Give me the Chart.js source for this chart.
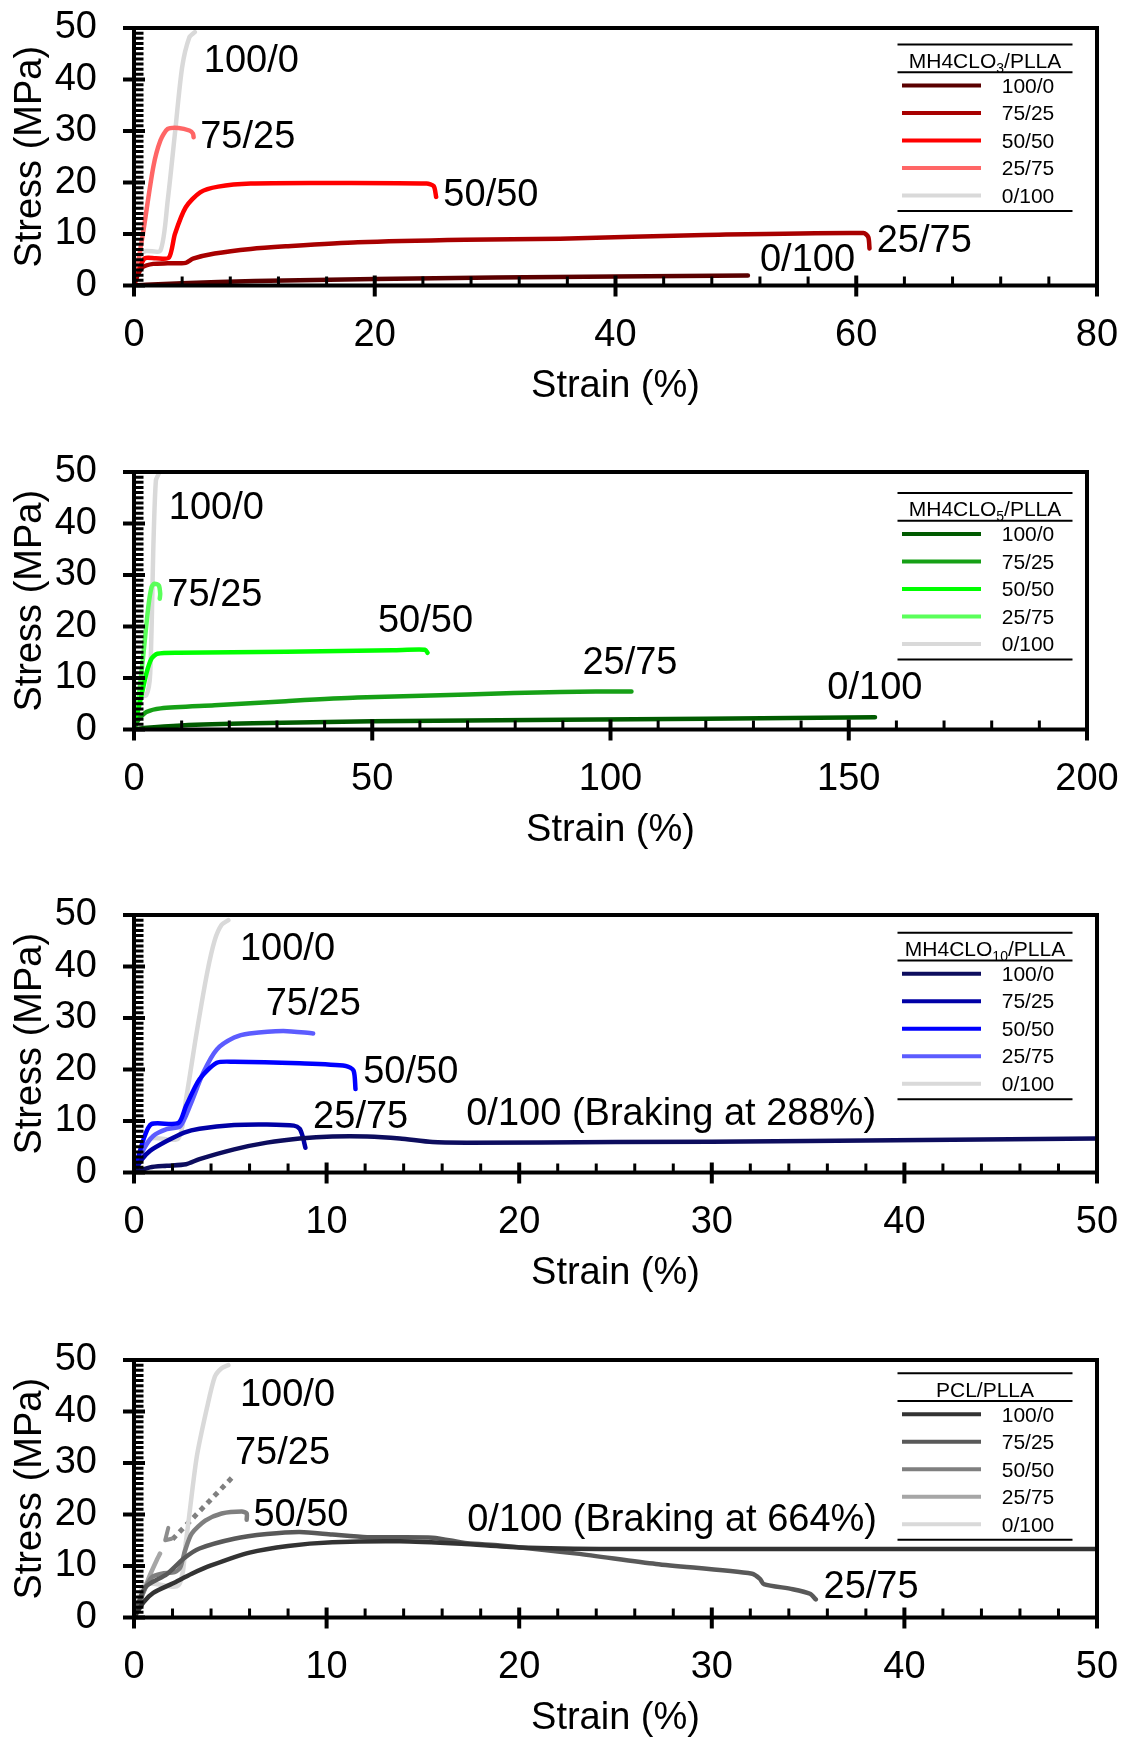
<!DOCTYPE html>
<html>
<head>
<meta charset="utf-8">
<title>Stress-strain curves of the blends</title>
<script src="https://cdn.jsdelivr.net/npm/chart.js"></script>
<style>
  body { margin: 0; background: #fff; overflow: hidden; }
  canvas.panel { position: absolute; left: 0; }
</style>
</head>
<body>
<canvas id="c1" class="panel" width="1126" height="404" style="top:1px"></canvas>
<canvas id="c2" class="panel" width="1126" height="404" style="top:445px"></canvas>
<canvas id="c3" class="panel" width="1126" height="404" style="top:888px"></canvas>
<canvas id="c4" class="panel" width="1126" height="404" style="top:1333px"></canvas>
<script>
// blend ratios, legend order
const blends = ['100/0', '75/25', '50/50', '25/75', '0/100'];

// MH4CLO3/PLLA  [strain %, stress MPa]
const mh3_100_0 = [[0,0],[1,0.15],[4,0.45],[10,0.85],[20,1.25],[30,1.55],[40,1.75],[51,1.95]];
const mh3_75_25 = [[0,0],[0.3,2.0],[0.74,3.6],[1.6,4.2],[2.8,4.3],[4.3,4.4],[4.9,5.2],[6.7,6.2],[9.7,7.1],[12.6,7.6],[18.6,8.4],[27.5,8.9],[35.4,9.1],[47.4,9.8],[60.6,10.2],[61.0,9.4],[61.1,7.2]];
const mh3_50_50 = [[0,0],[0.5,3.5],[0.9,5.3],[1.8,5.3],[2.9,5.4],[3.4,10],[4.3,15.2],[5.5,18.1],[7.0,19.2],[9.7,19.8],[15.6,19.9],[24.3,19.8],[24.9,19.3],[25.1,17.2]];
const mh3_25_75 = [[0,0],[0.74,10],[1.6,23],[2.2,28.2],[2.8,30.4],[3.7,30.6],[4.6,30.1],[4.9,29.5],[4.95,28.8]];
const mh3_0_100 = [[0,0],[0.6,6.1],[1.0,6.7],[2.2,6.8],[2.8,16.5],[3.4,29.5],[4.0,42.4],[4.6,48.2],[5.05,49.2]];
const mh3Notes = [['100/0', 5.8, 43.4], ['75/25', 5.5, 28.8], ['50/50', 25.7, 17.5], ['25/75', 61.7, 8.6], ['0/100', 52.0, 4.9]];

// MH4CLO5/PLLA
const mh5_100_0 = [[0,0],[2,0.3],[10,0.8],[25,1.2],[50,1.6],[90,1.9],[120,2.1],[155.5,2.4]];
const mh5_75_25 = [[0,0],[0.5,1.2],[1.1,2.1],[2.6,3.4],[5.6,4.1],[16.9,4.7],[31.9,5.5],[46.9,6.2],[70,6.8],[89.5,7.3],[104.4,7.4]];
const mh5_50_50 = [[0,0],[0.8,3.5],[1.5,6.3],[2.6,10.9],[3.7,13.8],[4.9,14.7],[9.4,14.9],[31.9,15.1],[54.3,15.4],[61.1,15.5],[61.6,14.9]];
const mh5_25_75 = [[0,0],[0.75,4.4],[1.9,14],[3.0,23.8],[3.7,27.7],[4.3,28.3],[5.2,28.0],[5.5,26.4],[5.4,25.4]];
const mh5_0_100 = [[0,0],[0.75,6.0],[2.6,6.7],[3.4,10.9],[4.1,36.7],[4.6,48.4],[5.2,49.7]];
const mh5Notes = [['100/0', 7.3, 43.0], ['75/25', 7.0, 26.1], ['50/50', 51.2, 20.9], ['25/75', 94.1, 12.9], ['0/100', 145.5, 8.0]];

// MH4CLO10/PLLA
const mh10_100_0 = [[0,0],[0.83,1.0],[1.7,1.3],[2.7,1.6],[3.4,2.6],[5.2,4.5],[6.9,5.8],[8.6,6.6],[10.3,7.0],[12.1,7.0],[13.8,6.6],[15.5,5.9],[17.3,5.8],[25,5.9],[35,6.1],[50,6.6]];
const mh10_75_25 = [[0,0],[0.4,2.5],[0.83,4.2],[1.7,6.1],[2.6,7.75],[3.4,8.5],[5.2,9.2],[6.9,9.3],[8.3,9.1],[8.6,8.5],[8.75,7.1],[8.9,4.8]];
const mh10_50_50 = [[0,0],[0.5,6.5],[0.9,9.4],[2.3,9.6],[2.7,12.9],[3.4,18.1],[4.3,21.3],[5.2,21.5],[8.6,21.2],[11.0,20.7],[11.4,19.8],[11.5,16.2]];
const mh10_25_75 = [[0,0],[0.5,4.5],[1.0,7.1],[1.7,8.4],[2.4,9.0],[2.9,12.9],[3.6,19.4],[4.3,23.9],[5.2,26.2],[6.0,27.0],[7.75,27.5],[9.3,27.0]];
const mh10_0_100 = [[0,0],[0.83,6.5],[2.3,6.6],[2.7,14.2],[3.25,27.1],[3.8,38.8],[4.2,45.2],[4.55,48.1],[4.9,49]];
const mh10Notes = [['100/0', 5.5, 43.3], ['75/25', 6.84, 32.6], ['50/50', 11.9, 19.4], ['25/75', 9.3, 10.7], ['0/100 (Braking at 288%)', 17.25, 11.3]];

// PCL/PLLA
const pcl_100_0 = [[0,0],[0.5,3.0],[1.0,4.8],[2.0,6.6],[3.0,8.5],[4.0,10.1],[6.0,12.6],[8.0,13.9],[10.3,14.6],[13.8,14.8],[17,14.3],[20,13.6],[25,13.3],[35,13.3],[50,13.3]];
const pcl_75_25 = [[0,0],[0.57,5.8],[1.7,8.4],[2.6,11.5],[3.4,13.4],[5.2,15.3],[6.9,16.2],[8.6,16.6],[10.3,16.1],[12.1,15.6],[15.5,15.5],[17.3,14.4],[19,14.0],[23,12.4],[27.1,10.4],[32.1,8.5],[32.5,7.5],[32.7,6.5],[34.2,5.5],[35.1,4.6],[35.4,3.5]];
const pcl_50_50 = [[0,0],[0.5,5.0],[0.92,7.8],[1.44,8.5],[2.1,8.8],[2.4,9.7],[2.65,13],[3.0,16.3],[3.7,18.8],[4.55,20.2],[5.6,20.6],[5.85,20.2],[5.85,19]];
const pcl_25_75 = [[0,0],[0.4,4],[0.8,8],[1.2,11.3],[1.35,12.4]];
const pcl_0_100 = [[0,0],[0.57,6.5],[2.3,6.2],[2.7,14.9],[3.25,31],[3.8,40.9],[4.2,46.8],[4.55,48.4],[4.9,49]];
const pcl_25_75_break = [[1.78,17.4],[1.62,15.0],[1.95,15.3]];
const pcl_25_75_dotted = [[2.0,15.2],[5.1,27.2]];
const pclNotes = [['100/0', 5.5, 43.2], ['75/25', 5.24, 31.8], ['50/50', 6.2, 19.8], ['0/100 (Braking at 664%)', 17.3, 18.9], ['25/75', 35.8, 5.9]];

const redShades = ['#5a0000', '#a80000', '#ff0000', '#ff6666', '#d9d9d9'];
const greenShades = ['#005a00', '#16a016', '#00ff00', '#5aff5a', '#d9d9d9'];
const blueShades = ['#0d0d5e', '#0000a6', '#0000ff', '#5c5cff', '#d9d9d9'];
const greyShades = ['#333333', '#595959', '#7f7f7f', '#a6a6a6', '#d9d9d9'];

const FONT = '"Liberation Sans", Arial, Helvetica, sans-serif';
Chart.defaults.font.family = FONT;
Chart.defaults.color = '#000';

const toXY = pts => pts.map(([x, y]) => ({x, y}));

// box around the plot, major ticks across the axes, minor ticks inside
const frameTicks = {
  id: 'frameTicks',
  afterDraw(chart, args, opts) {
    const {ctx, chartArea: a, scales: {x, y}} = chart;
    const isMajor = (v, step) => Math.abs(v / step - Math.round(v / step)) < 1e-6;
    ctx.save();
    ctx.strokeStyle = '#000';
    ctx.lineWidth = 4;
    ctx.lineJoin = 'miter';
    ctx.strokeRect(a.left, a.top, a.right - a.left, a.bottom - a.top);

    const major = new Path2D(), minor = new Path2D();
    for (let i = 0; i * opts.xMinor <= x.max + 1e-9; i++) {
      const v = i * opts.xMinor, px = x.getPixelForValue(v);
      if (isMajor(v, opts.xMajor)) { major.moveTo(px, a.bottom - 10); major.lineTo(px, a.bottom + 11); }
      else { minor.moveTo(px, a.bottom - 9); minor.lineTo(px, a.bottom); }
    }
    for (let i = 0; i * opts.yMinor <= y.max + 1e-9; i++) {
      const v = i * opts.yMinor, py = y.getPixelForValue(v);
      if (isMajor(v, opts.yMajor)) { major.moveTo(a.left - 11, py); major.lineTo(a.left + 11, py); }
      else { minor.moveTo(a.left, py); minor.lineTo(a.left + 9.5, py); }
    }
    ctx.lineWidth = 4;
    ctx.stroke(major);
    ctx.lineWidth = 3;
    ctx.stroke(minor);
    ctx.restore();
  }
};

// ratio labels written next to the curves
const curveNotes = {
  id: 'curveNotes',
  afterDatasetsDraw(chart, args, opts) {
    const {ctx, scales: {x, y}} = chart;
    ctx.save();
    ctx.font = '38px ' + FONT;
    ctx.fillStyle = '#000';
    ctx.textAlign = 'left';
    ctx.textBaseline = 'middle';
    for (const [text, sx, sy] of opts.items) ctx.fillText(text, x.getPixelForValue(sx), y.getPixelForValue(sy));
    ctx.restore();
  }
};

// table-style legend: rule, title with subscript, rule, five entries, rule
const blendLegend = {
  id: 'blendLegend',
  afterDraw(chart, args, opts) {
    const {ctx, chartArea: a} = chart;
    const top = a.top + opts.offset;
    const L = 897.5, R = 1072.5;
    ctx.save();
    ctx.strokeStyle = '#000';
    ctx.lineWidth = 2;
    ctx.beginPath();
    for (const dy of [0, 27.7, 166.5]) { ctx.moveTo(L, top + dy); ctx.lineTo(R, top + dy); }
    ctx.stroke();

    const [head, sub, tail] = opts.title;
    ctx.fillStyle = '#000';
    ctx.textBaseline = 'alphabetic';
    ctx.textAlign = 'left';
    ctx.font = '21px ' + FONT;
    const wHead = ctx.measureText(head).width, wTail = ctx.measureText(tail).width;
    ctx.font = '14px ' + FONT;
    const wSub = ctx.measureText(sub).width;
    let tx = (L + R) / 2 - (wHead + wSub + wTail) / 2;
    const base = top + 23.2;
    ctx.font = '21px ' + FONT;
    ctx.fillText(head, tx, base);
    tx += wHead;
    ctx.font = '14px ' + FONT;
    ctx.fillText(sub, tx, base + 5);
    tx += wSub;
    ctx.font = '21px ' + FONT;
    ctx.fillText(tail, tx, base);

    ctx.textAlign = 'center';
    ctx.textBaseline = 'middle';
    ctx.lineWidth = 4;
    blends.forEach((name, i) => {
      const yy = top + 41 + i * 27.5;
      ctx.strokeStyle = chart.data.datasets[i].borderColor;
      ctx.beginPath();
      ctx.moveTo(902, yy);
      ctx.lineTo(981, yy);
      ctx.stroke();
      ctx.fillText(name, 1028, yy + 1.5);
    });
    ctx.restore();
  }
};

function panel(id, cfg) {
  const datasets = cfg.series.map((pts, i) => ({
    label: blends[i],
    data: toXY(pts),
    borderColor: cfg.colors[i]
  })).concat(cfg.extra || []);
  return new Chart(document.getElementById(id), {
    type: 'line',
    data: { datasets },
    options: {
      responsive: false,
      animation: false,
      devicePixelRatio: 1,
      layout: { padding: { top: 27, right: 1126 - cfg.right, bottom: 0, left: 0 } },
      elements: {
        point: { radius: 0 },
        line: { borderWidth: 4.5, tension: 0.25, fill: false, borderCapStyle: 'round', borderJoinStyle: 'round' }
      },
      plugins: {
        legend: { display: false },
        tooltip: { enabled: false },
        frameTicks: { xMajor: cfg.xStep, xMinor: cfg.xMinor, yMajor: 10, yMinor: 1 },
        curveNotes: { items: cfg.notes },
        blendLegend: { title: cfg.legendTitle, offset: cfg.legendOffset }
      },
      scales: {
        x: {
          type: 'linear', min: 0, max: cfg.xMax,
          ticks: { stepSize: cfg.xStep, font: { size: 38 }, color: '#000', padding: 19, maxRotation: 0, autoSkip: false },
          grid: { display: false },
          border: { display: false },
          title: { display: true, text: 'Strain (%)', font: { size: 38 }, color: '#000', padding: { top: 0, bottom: -4 } },
          afterFit(s) { s.height = 119.5; s.paddingLeft = 0; s.paddingRight = 0; }
        },
        y: {
          type: 'linear', min: 0, max: 50,
          ticks: { stepSize: 10, font: { size: 38 }, color: '#000', padding: 29, autoSkip: false },
          grid: { display: false },
          border: { display: false },
          title: { display: true, text: 'Stress (MPa)', font: { size: 38 }, color: '#000', padding: { top: 8, bottom: 0 } },
          afterFit(s) { s.width = 134; s.paddingTop = 0; s.paddingBottom = 0; }
        }
      }
    },
    plugins: [frameTicks, curveNotes, blendLegend]
  });
}

panel('c1', {
  series: [mh3_100_0, mh3_75_25, mh3_50_50, mh3_25_75, mh3_0_100],
  colors: redShades, notes: mh3Notes,
  xMax: 80, xStep: 20, xMinor: 4, right: 1097,
  legendTitle: ['MH4CLO', '3', '/PLLA'], legendOffset: 16.6
});

panel('c2', {
  series: [mh5_100_0, mh5_75_25, mh5_50_50, mh5_25_75, mh5_0_100],
  colors: greenShades, notes: mh5Notes,
  xMax: 200, xStep: 50, xMinor: 10, right: 1087,
  legendTitle: ['MH4CLO', '5', '/PLLA'], legendOffset: 21
});

panel('c3', {
  series: [mh10_100_0, mh10_75_25, mh10_50_50, mh10_25_75, mh10_0_100],
  colors: blueShades, notes: mh10Notes,
  xMax: 50, xStep: 10, xMinor: 2, right: 1097,
  legendTitle: ['MH4CLO', '10', '/PLLA'], legendOffset: 17.7
});

panel('c4', {
  series: [pcl_100_0, pcl_75_25, pcl_50_50, pcl_25_75, pcl_0_100],
  colors: greyShades, notes: pclNotes,
  xMax: 50, xStep: 10, xMinor: 2, right: 1097,
  legendTitle: ['PCL/PLLA', '', ''], legendOffset: 13.3,
  extra: [
    { label: 'break', data: toXY(pcl_25_75_break), borderColor: '#8c8c8c', tension: 0, borderWidth: 4 },
    { label: 'dotted', data: toXY(pcl_25_75_dotted), borderColor: '#808080', tension: 0, borderWidth: 5, borderDash: [5, 5], borderCapStyle: 'butt' }
  ]
});
</script>
</body>
</html>
